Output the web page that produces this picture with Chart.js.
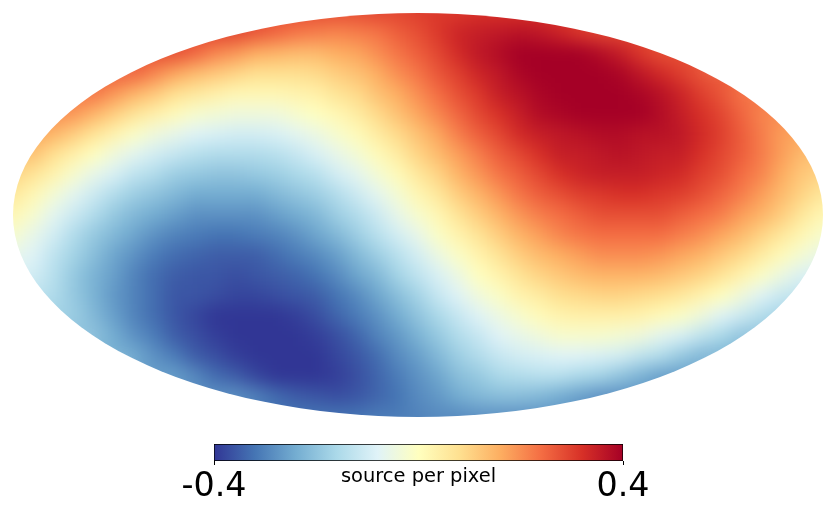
<!DOCTYPE html>
<html>
<head>
<meta charset="utf-8">
<script src="https://cdn.jsdelivr.net/npm/chart.js@4/dist/chart.umd.min.js"></script>
<style>
html,body{margin:0;padding:0;background:#fff;width:836px;height:513px;overflow:hidden}
#stage{position:relative;width:836px;height:513px;overflow:hidden}
#map{position:absolute;left:-40px;top:-40px}
#bar{position:absolute;left:0;top:0}
</style>
</head>
<body>
<div id="stage">
<canvas id="map" width="916" height="510"></canvas>
<canvas id="bar" width="836" height="513"></canvas>
</div>
<script>
// Map values, in hundredths of "source per pixel".
// Each row is centred on the map's central meridian; neighbouring entries are 0.1 apart in x.
const rowP11=[30,30,30,29,29,29,30,30,30,31,31,31,31];
const rowP10=[30,30,29,28,28,28,28,28,29,29,30,31,31,32,32,32,32,31,31,30,30];
const rowP09=[29,29,29,29,29,27,25,23,22,21,22,23,26,28,31,34,35,36,37,36,34,31,29,29,29,29,29];
const rowP08=[28,28,28,25,21,19,16,15,14,14,16,17,20,23,26,29,33,36,38,40,40,40,40,38,35,31,28,28,28];
const rowP07=[26,26,25,21,17,14,12,10,8,8,8,9,11,13,16,20,23,27,30,34,36,39,40,40,40,40,39,36,33,30,27,26,26];
const rowP06=[23,23,23,19,15,12,8,6,4,2,2,2,3,4,7,9,13,16,20,24,28,31,35,37,39,40,40,40,40,39,37,34,30,27,23,23,23];
const rowP05=[20,20,19,15,11,7,4,1,-2,-3,-4,-4,-4,-2,0,2,5,9,13,17,21,25,29,32,35,38,39,40,40,40,40,38,35,32,29,25,21,20,20];
const rowP04=[17,17,15,11,7,3,-1,-4,-6,-8,-9,-10,-10,-9,-7,-5,-2,1,5,9,13,17,22,26,29,33,35,36,37,38,38,37,37,36,33,30,26,22,18,17,17];
const rowP03=[13,13,13,8,4,0,-4,-7,-10,-12,-14,-15,-15,-15,-14,-12,-9,-6,-3,1,5,10,14,18,22,26,29,32,35,35,36,37,36,35,35,32,29,26,22,18,14,13,13];
const rowP02=[10,10,7,3,-2,-6,-9,-13,-15,-18,-19,-20,-20,-19,-18,-16,-14,-10,-7,-3,1,6,10,15,19,23,26,29,32,34,35,35,35,34,33,30,28,24,21,16,12,10,10];
const rowP01=[6,6,2,-3,-7,-11,-15,-18,-20,-22,-24,-24,-24,-24,-22,-20,-18,-15,-11,-7,-3,2,6,11,15,19,23,26,28,30,31,32,32,31,30,28,25,22,18,14,10,6,6];
const rowZ00=[2,2,-2,-7,-11,-15,-19,-22,-24,-26,-28,-28,-28,-28,-26,-24,-22,-18,-15,-11,-6,-2,2,7,11,15,19,22,24,26,28,28,28,28,26,24,22,18,15,11,6,2,2];
const rowN01=[-2,-2,-6,-10,-15,-19,-22,-25,-28,-30,-31,-32,-32,-31,-30,-28,-25,-22,-18,-14,-10,-6,-1,3,7,11,15,18,21,23,24,24,24,24,22,20,17,14,10,6,2,-2,-2];
const rowN02=[-6,-6,-8,-13,-17,-21,-25,-28,-31,-33,-34,-35,-35,-35,-33,-31,-29,-26,-22,-18,-14,-10,-5,-1,3,7,11,14,16,18,20,20,20,19,17,15,12,9,5,1,-3,-6,-6];
const rowN03=[-9,-9,-10,-14,-19,-23,-26,-30,-33,-35,-36,-36,-37,-36,-35,-34,-32,-29,-25,-22,-17,-13,-9,-5,0,3,7,10,12,14,15,15,15,14,12,10,7,3,-1,-5,-9,-9,-9];
const rowN04=[-13,-13,-15,-19,-23,-27,-30,-33,-36,-36,-37,-38,-38,-37,-36,-35,-32,-29,-25,-21,-17,-12,-8,-4,-1,3,5,8,9,10,10,9,8,6,3,0,-4,-8,-12,-13,-13];
const rowN05=[-17,-17,-18,-22,-26,-30,-33,-36,-38,-40,-40,-40,-40,-39,-37,-34,-31,-28,-24,-20,-16,-12,-8,-5,-2,1,3,4,4,4,3,1,-1,-4,-8,-11,-15,-17,-17];
const rowN06=[-20,-20,-20,-24,-28,-31,-35,-37,-39,-40,-40,-40,-40,-39,-37,-34,-30,-27,-23,-19,-15,-12,-8,-6,-4,-2,-2,-2,-3,-4,-7,-9,-13,-16,-20,-20,-20];
const rowN07=[-23,-23,-24,-28,-31,-35,-37,-39,-40,-40,-40,-40,-38,-36,-33,-29,-26,-22,-18,-15,-12,-10,-9,-8,-8,-9,-10,-13,-15,-19,-22,-23,-23];
const rowN08=[-26,-26,-26,-29,-33,-35,-38,-40,-40,-40,-39,-37,-34,-31,-28,-25,-21,-19,-16,-15,-14,-14,-16,-17,-20,-23,-26,-26,-26];
const rowN09=[-28,-28,-28,-28,-28,-30,-33,-35,-36,-37,-36,-34,-32,-29,-27,-24,-22,-21,-21,-22,-24,-26,-28,-28,-28,-28,-28];
const rowN10=[-30,-30,-31,-32,-32,-32,-32,-32,-31,-31,-30,-29,-29,-28,-28,-28,-28,-28,-29,-30,-30];
const rowN11=[-30,-30,-31,-31,-30,-30,-30,-29,-29,-29,-29,-30,-30];
const mapRows=[rowP11,rowP10,rowP09,rowP08,rowP07,rowP06,rowP05,rowP04,rowP03,rowP02,rowP01,rowZ00,
               rowN01,rowN02,rowN03,rowN04,rowN05,rowN06,rowN07,rowN08,rowN09,rowN10,rowN11];
const rowYs=[1.1,1.0,0.9,0.8,0.7,0.6,0.5,0.4,0.3,0.2,0.1,0,-0.1,-0.2,-0.3,-0.4,-0.5,-0.6,-0.7,-0.8,-0.9,-1.0,-1.1];

// Colour bar
const colorRange=[-0.4,0.4];
const colorTicks=[-0.4,0.4];
const colorLabel='source per pixel';
const colorStops=['#313695','#4575b4','#74add1','#abd9e9','#e0f3f8','#ffffbf','#fee090','#fdae61','#f46d43','#d73027','#a50026'];

function hex(c){return [1,3,5].map(i=>parseInt(c.substr(i,2),16));}
function colorFor(v){
  const t=Math.max(0,Math.min(1,(v-colorRange[0])/(colorRange[1]-colorRange[0])))*(colorStops.length-1);
  const i=Math.min(colorStops.length-2,Math.floor(t)),f=t-i;
  const a=hex(colorStops[i]),b=hex(colorStops[i+1]);
  return 'rgb('+a.map((p,j)=>Math.round(p+(b[j]-p)*f)).join(',')+')';
}

const points=[],colors=[];
mapRows.forEach((row,r)=>{
  const mid=(row.length-1)/2;
  row.forEach((hundredths,i)=>{
    points.push({x:(i-mid)*0.1,y:rowYs[r]});
    colors.push(colorFor(hundredths/100));
  });
});

// Softens the cell edges and trims the marks to the map's ellipse, using the chart's own scales.
const ellipseSoften={
  id:'ellipseSoften',
  afterDatasetsDraw(chart){
    const c=chart.ctx,cv=chart.canvas,sx=chart.scales.x,sy=chart.scales.y;
    const off=document.createElement('canvas');off.width=cv.width;off.height=cv.height;
    off.getContext('2d').drawImage(cv,0,0);
    const cx=sx.getPixelForValue(0),cy=sy.getPixelForValue(0);
    const rx=sx.getPixelForValue(2)-cx,ry=cy-sy.getPixelForValue(1);
    c.save();
    c.setTransform(1,0,0,1,0,0);
    c.clearRect(0,0,cv.width,cv.height);
    c.beginPath();c.ellipse(cx,cy,rx,ry,0,0,Math.PI*2);c.clip();
    c.filter='blur(9px)';
    c.drawImage(off,0,0);
    c.restore();
  }
};

new Chart(document.getElementById('map'),{
  type:'scatter',
  data:{datasets:[{data:points,pointStyle:'rect',pointRadius:15,pointHoverRadius:15,pointBorderWidth:0,
    pointBackgroundColor:colors,clip:false}]},
  options:{
    responsive:false,animation:false,events:[],
    layout:{autoPadding:false,padding:{left:12.5,right:12.5,top:12.6,bottom:12.6}},
    plugins:{legend:{display:false},tooltip:{enabled:false}},
    scales:{x:{type:'linear',display:false,min:-2.2,max:2.2},y:{type:'linear',display:false,min:-1.2,max:1.2}}
  },
  plugins:[ellipseSoften]
});

new Chart(document.getElementById('bar'),{
  type:'bar',
  data:{labels:[colorLabel],datasets:[{data:[colorRange],barPercentage:1,categoryPercentage:1,
    borderColor:'#000',borderWidth:1,borderSkipped:false,
    backgroundColor(ctx){
      const ch=ctx.chart,s=ch.scales.x;
      if(!ch.chartArea||!s)return colorStops[5];
      const g=ch.ctx.createLinearGradient(s.getPixelForValue(colorRange[0]),0,s.getPixelForValue(colorRange[1]),0);
      colorStops.forEach((col,i)=>g.addColorStop(i/(colorStops.length-1),col));
      return g;
    }}]},
  options:{
    indexAxis:'y',responsive:false,animation:false,events:[],
    layout:{autoPadding:false,padding:{left:214,right:213,top:444,bottom:0}},
    plugins:{legend:{display:false},tooltip:{enabled:false}},
    scales:{
      y:{display:false},
      x:{type:'linear',position:'bottom',min:colorRange[0],max:colorRange[1],
        afterBuildTicks(a){a.ticks=colorTicks.map(value=>({value}));},
        afterFit(a){a.height=52;},
        border:{display:false},
        grid:{drawOnChartArea:false,drawTicks:true,tickLength:4,tickColor:'#000',tickWidth:1},
        ticks:{color:'#000',padding:2,maxRotation:0,autoSkip:false,
          font:{family:'"DejaVu Sans"',size:33.33},
          callback:v=>v.toFixed(1)},
        title:{display:true,text:colorLabel,color:'#000',font:{family:'"DejaVu Sans"',size:19.44},
          padding:{top:0,bottom:24.3}}
      }
    }
  }
});
</script>
</body>
</html>
